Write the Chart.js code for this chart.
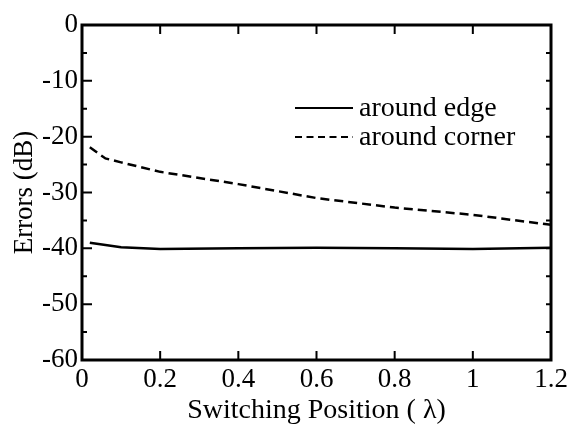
<!DOCTYPE html>
<html>
<head>
<meta charset="utf-8">
<script src="https://cdn.jsdelivr.net/npm/chart.js@4"></script>
<style>
  html, body { margin: 0; padding: 0; background: #fff; }
  #wrap { width: 574px; height: 425px; }
</style>
</head>
<body>
<div id="wrap"><canvas id="errChart"></canvas></div>
<script>
// values
var edgeX = [0.02, 0.1, 0.2, 0.4, 0.6, 0.8, 1.0, 1.2]
var edgeY = [-39.0, -39.8, -40.1, -40.0, -39.9, -40.0, -40.1, -39.9]
var cornerX = [0.02, 0.06, 0.1, 0.2, 0.4, 0.6, 0.8, 1.0, 1.2]
var cornerY = [-21.9, -23.9, -24.6, -26.3, -28.5, -31.0, -32.7, -34.0, -35.8]
var seriesNames = ['around edge', 'around corner']
var xTicks = [0, 0.2, 0.4, 0.6, 0.8, 1, 1.2]
var yTicks = [0, -10, -20, -30, -40, -50, -60]
var yMinor = [-5, -15, -25, -35, -45, -55]

const fontFamily = 'Liberation Serif'

function toPoints(xs, ys) {
    return xs.map((x, i) => ({ x: x, y: ys[i] }))
}

// frame + inward ticks, like the original plot
const framePlugin = {
    id: 'frame',
    afterDraw(chart) {
        const ctx = chart.ctx
        const a = chart.chartArea
        const xs = chart.scales.x
        const ys = chart.scales.y
        ctx.save()
        ctx.strokeStyle = '#000'
        ctx.lineWidth = 2
        ctx.beginPath()
        xTicks.forEach(v => {
            const px = xs.getPixelForValue(v)
            ctx.moveTo(px, a.bottom); ctx.lineTo(px, a.bottom - 9)
            ctx.moveTo(px, a.top); ctx.lineTo(px, a.top + 9)
        })
        yTicks.forEach(v => {
            const py = ys.getPixelForValue(v)
            ctx.moveTo(a.left, py); ctx.lineTo(a.left + 10, py)
            ctx.moveTo(a.right, py); ctx.lineTo(a.right - 5, py)
        })
        yMinor.forEach(v => {
            const py = ys.getPixelForValue(v)
            ctx.moveTo(a.left, py); ctx.lineTo(a.left + 5, py)
            ctx.moveTo(a.right, py); ctx.lineTo(a.right - 5, py)
        })
        ctx.stroke()
        ctx.lineWidth = 3
        ctx.strokeRect(a.left, a.top, a.right - a.left, a.bottom - a.top)
        ctx.restore()
    }
}

// legend drawn inside the plot
const legendPlugin = {
    id: 'innerLegend',
    afterDraw(chart) {
        const ctx = chart.ctx
        ctx.save()
        ctx.font = '28px ' + fontFamily
        ctx.fillStyle = '#000'
        ctx.textBaseline = 'middle'
        chart.data.datasets.forEach((ds, i) => {
            const y = 108 + i * 29
            ctx.strokeStyle = '#000'
            ctx.lineWidth = 2
            ctx.setLineDash(ds.borderDash ? [7, 4.5] : [])
            ctx.beginPath()
            ctx.moveTo(295, y)
            ctx.lineTo(353, y)
            ctx.stroke()
            ctx.fillText(ds.label, 359, y + 1)
        })
        ctx.restore()
    }
}

const data = {
    datasets: [{
        label: seriesNames[0],
        data: toPoints(edgeX, edgeY),
        borderColor: '#000',
        borderWidth: 2.5,
        pointRadius: 0,
        tension: 0
    }, {
        label: seriesNames[1],
        data: toPoints(cornerX, cornerY),
        borderColor: '#000',
        borderWidth: 2.5,
        borderDash: [9, 5],
        pointRadius: 0,
        tension: 0
    }]
}

Chart.defaults.font.family = fontFamily

const config = {
    type: 'line',
    data: data,
    options: {
        responsive: true,
        maintainAspectRatio: false,
        animation: false,
        layout: { padding: { top: 25, right: 23, left: 0, bottom: 0 } },
        plugins: { legend: { display: false }, tooltip: { enabled: false } },
        scales: {
            x: {
                type: 'linear',
                min: 0,
                max: 1.2,
                afterFit: s => { s.height = 65 },
                afterBuildTicks: s => { s.ticks = xTicks.map(v => ({ value: v })) },
                grid: { display: false, drawTicks: false },
                border: { display: false },
                ticks: {
                    color: '#000',
                    padding: 4,
                    maxRotation: 0,
                    font: { family: fontFamily, size: 27 },
                    callback: v => String(Math.round(v * 10) / 10)
                },
                title: {
                    display: true,
                    text: 'Switching Position ( \u03bb)',
                    color: '#000',
                    padding: 0,
                    font: { family: fontFamily, size: 28, lineHeight: 1.0 }
                }
            },
            y: {
                min: -60,
                max: 0,
                afterFit: s => { s.width = 82 },
                afterBuildTicks: s => { s.ticks = yTicks.map(v => ({ value: v })) },
                grid: { display: false, drawTicks: false },
                border: { display: false },
                ticks: {
                    color: '#000',
                    padding: 4,
                    font: { family: fontFamily, size: 27 },
                    callback: v => String(v)
                },
                title: {
                    display: true,
                    text: 'Errors (dB)',
                    color: '#000',
                    padding: { top: 11, bottom: 0 },
                    font: { family: fontFamily, size: 27, lineHeight: 1.0 }
                }
            }
        }
    },
    plugins: [framePlugin, legendPlugin]
}

const errChart = new Chart(document.getElementById('errChart'), config)
</script>
</body>
</html>
